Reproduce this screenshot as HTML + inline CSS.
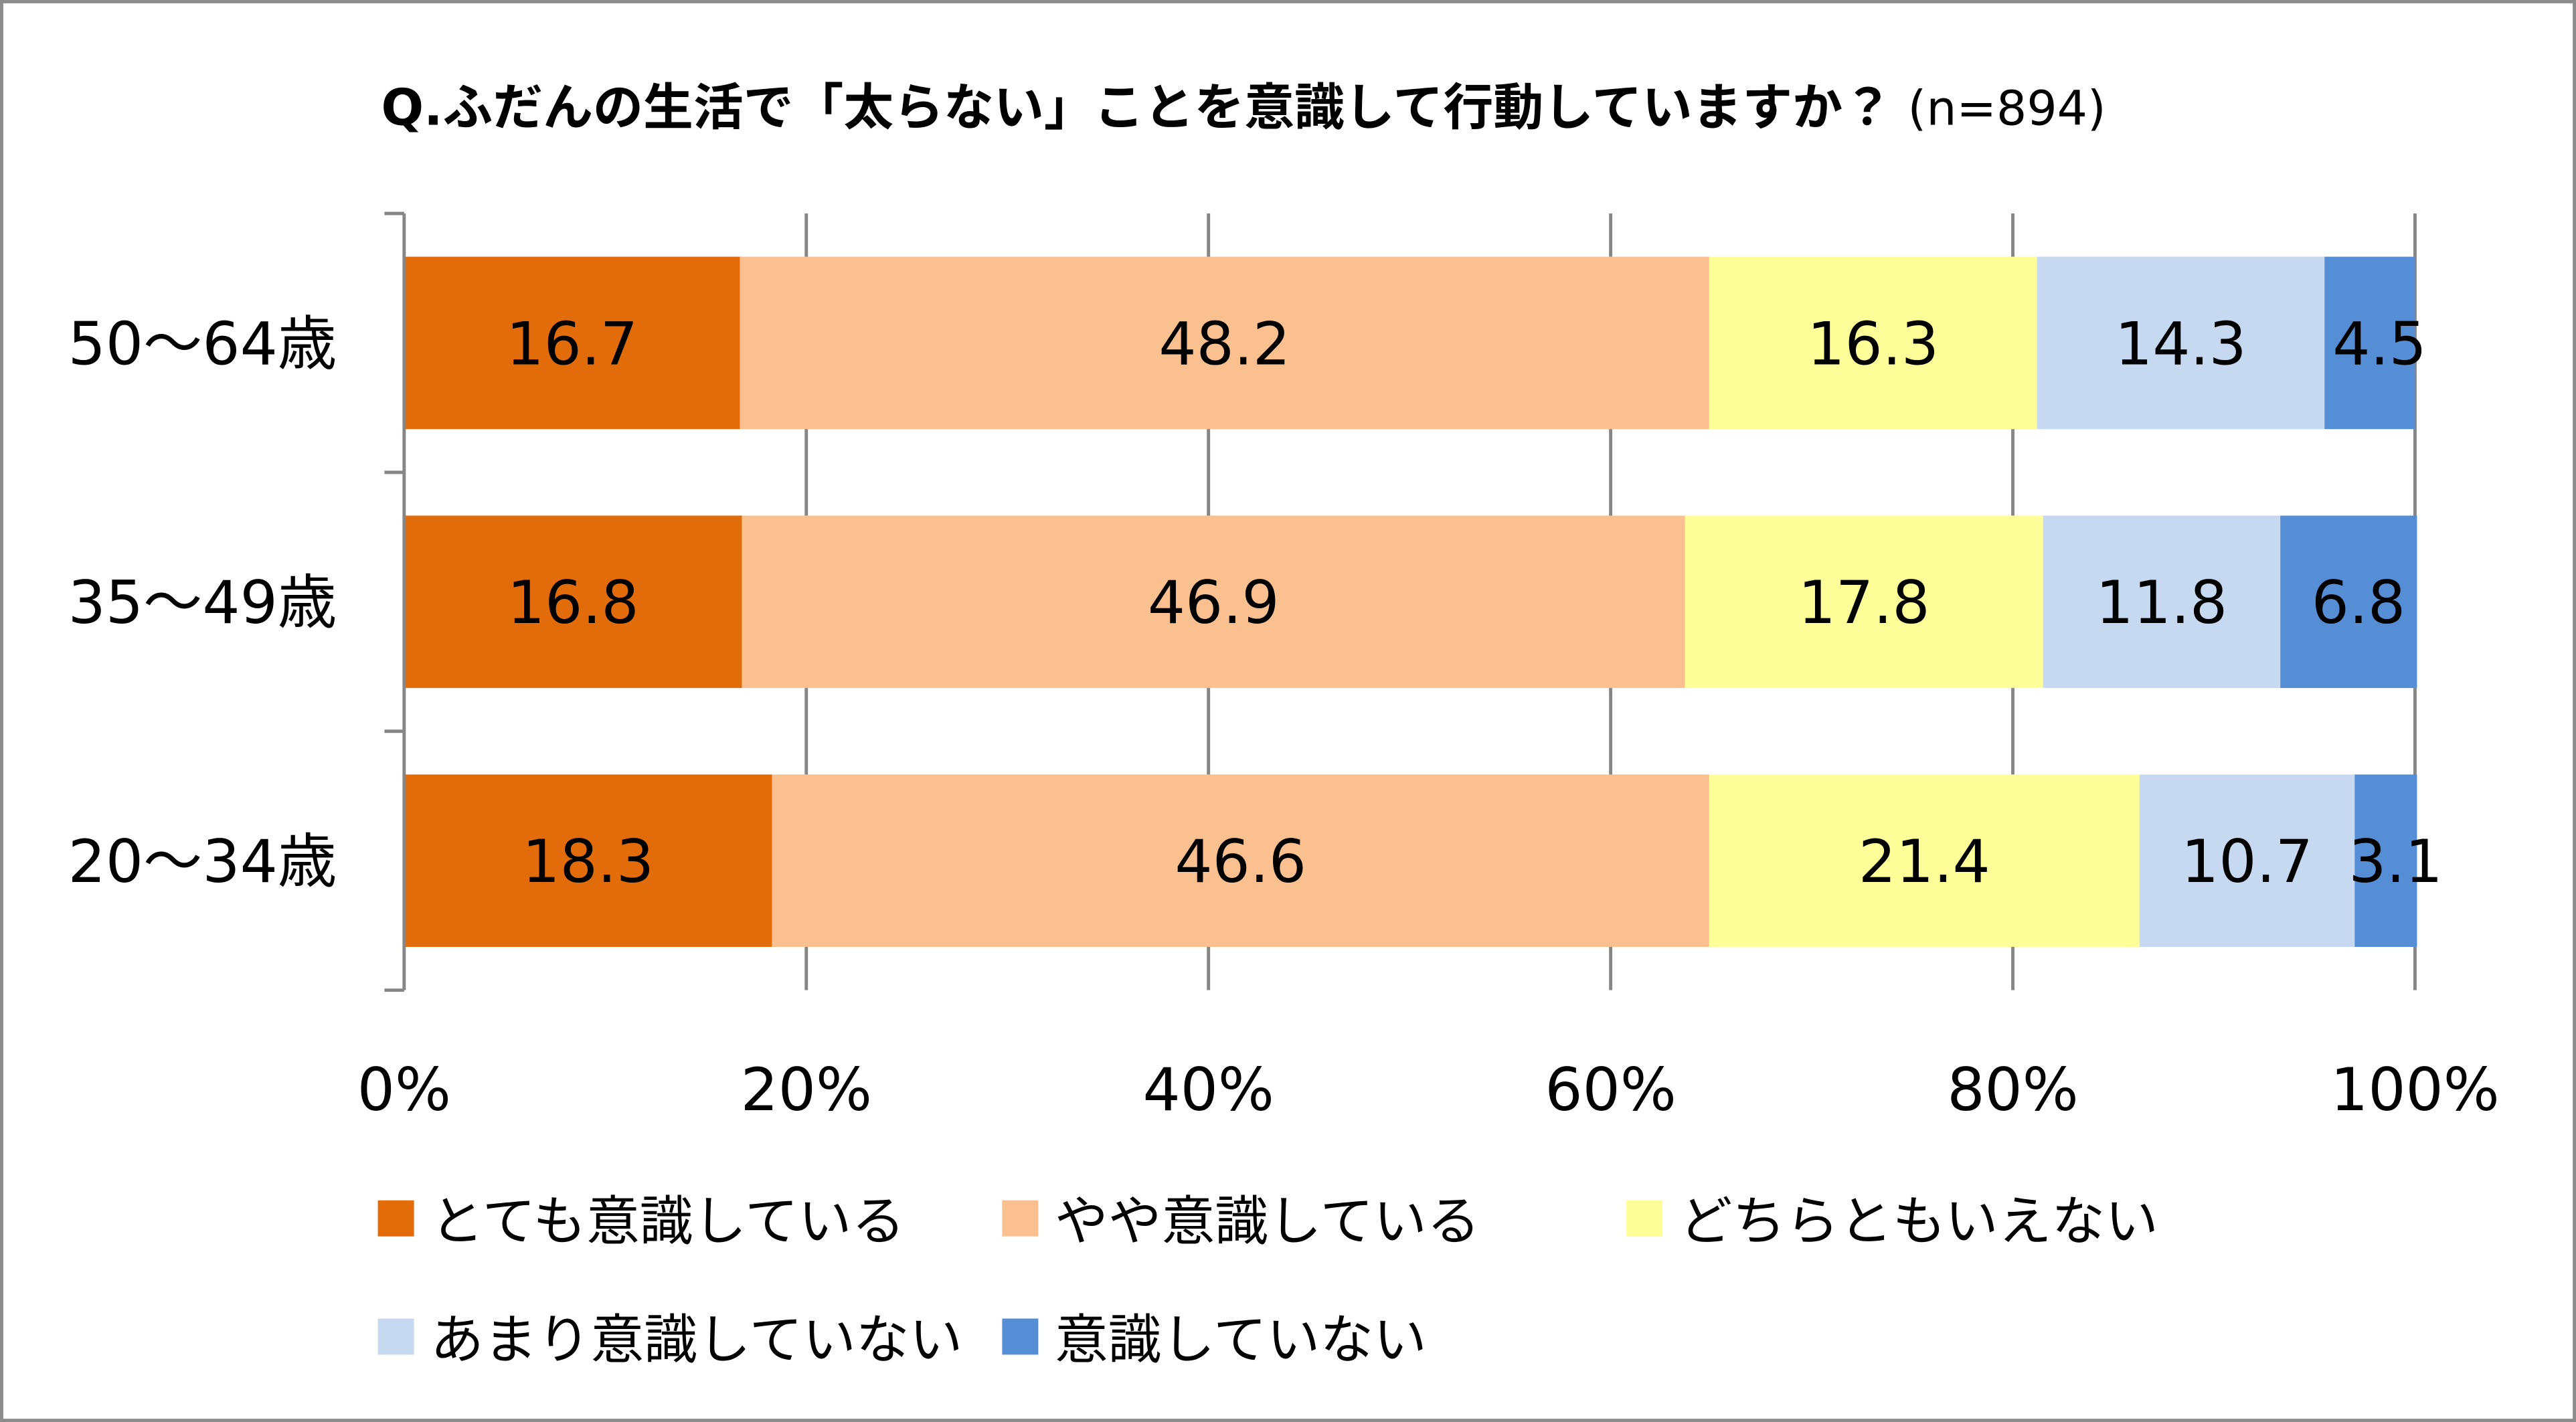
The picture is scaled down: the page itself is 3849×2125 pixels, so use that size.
<!DOCTYPE html>
<html><head><meta charset="utf-8">
<style>
html,body{margin:0;padding:0;background:#fff;}
svg{display:block;}
text{font-family:"DejaVu Sans","Noto Sans CJK JP",sans-serif;}
</style></head>
<body>
<svg id="chart" width="3849" height="2125" viewBox="0 0 1568 866" preserveAspectRatio="none" xmlns="http://www.w3.org/2000/svg">
<rect x="1" y="1" width="1566" height="864" fill="#fff" stroke="#8c8c8c" stroke-width="2"/>
<text x="232" y="76" font-size="30.5" font-weight="bold" fill="#000">Q.ふだんの生活で「太らない」ことを意識して行動していますか？<tspan font-weight="normal" font-size="29"> (n=894)</tspan></text>
<g id="grid"></g>
<g id="bars"></g>
<g id="axes"></g>
<g id="legend"></g>
</svg>
<script>
const categories = ["50〜64歳", "35〜49歳", "20〜34歳"];
const seriesNames = ["とても意識している", "やや意識している", "どちらともいえない", "あまり意識していない", "意識していない"];
const seriesColors = ["#E36C0A", "#FAC090", "#FFFF99", "#C6D9F1", "#558ED5"];
const s1 = [16.7, 16.8, 18.3];
const s2 = [48.2, 46.9, 46.6];
const s3 = [16.3, 17.8, 21.4];
const s4 = [14.3, 11.8, 10.7];
const s5 = [4.5, 6.8, 3.1];
const tickValues = [0, 20, 40, 60, 80, 100];
const tickLabels = ["0%", "20%", "40%", "60%", "80%", "100%"];

const NS = "http://www.w3.org/2000/svg";
const X0 = 246, X1 = 1470, Y0 = 130, Y1 = 603;
const xs = v => X0 + (X1 - X0) * v / 100;
const band = (Y1 - Y0) / categories.length;
const barH = 105;
function mk(tag, attrs, parent) {
  const e = document.createElementNS(NS, tag);
  for (const k in attrs) e.setAttribute(k, attrs[k]);
  parent.appendChild(e);
  return e;
}
const grid = document.getElementById("grid"), bars = document.getElementById("bars"),
      axes = document.getElementById("axes"), legend = document.getElementById("legend");

tickValues.forEach((v, i) => {
  if (v > 0) {
    const g = mk("line", {x1: xs(v), x2: xs(v), y1: Y0, y2: Y1, stroke: "#868686", "stroke-width": 2}, grid);
    
    
  }
  const t = mk("text", {x: xs(v), y: 676, "font-size": 36, "text-anchor": "middle", fill: "#000"}, axes);
  t.textContent = tickLabels[i];
  
  
});

const yl = mk("line", {x1: X0, x2: X0, y1: Y0, y2: Y1, stroke: "#868686", "stroke-width": 2}, axes);


for (let i = 0; i <= categories.length; i++) {
  const y = Y0 + band * i;
  const tk = mk("line", {x1: 234, x2: X0, y1: y, y2: y, stroke: "#868686", "stroke-width": 2}, axes);
  
  
}

const series = [s1, s2, s3, s4, s5];
categories.forEach((c, ci) => {
  const yc = Y0 + band * (ci + 0.5);
  const lab = mk("text", {x: 205, y: yc + 13, "font-size": 36, "text-anchor": "end", fill: "#000"}, axes);
  lab.textContent = c;
  
  
  let acc = 0;
  series.forEach((s, si) => {
    const v = s[ci];
    const r = mk("rect", {x: xs(acc), y: yc - barH / 2, width: xs(acc + v) - xs(acc), height: barH, fill: seriesColors[si]}, bars);
    
    
    const t = mk("text", {x: (xs(acc) + xs(acc + v)) / 2 + (si === 4 ? 6 : 0), y: yc + 13, "font-size": 36, "text-anchor": "middle", fill: "#000"}, bars);
    t.textContent = v.toFixed(1);
    
    
    acc += v;
  });
});

const legPos = [[230, 743], [610, 743], [990, 743], [230, 815], [610, 815]];
seriesNames.forEach((n, i) => {
  const [lx, ly] = legPos[i];
  const sq = mk("rect", {x: lx, y: ly - 12, width: 22, height: 22, fill: seriesColors[i]}, legend);
  
  
  const t = mk("text", {x: lx + 32, y: ly + 12, "font-size": 32.5, fill: "#000"}, legend);
  t.textContent = n;
  
  
});
</script>
</body></html>
